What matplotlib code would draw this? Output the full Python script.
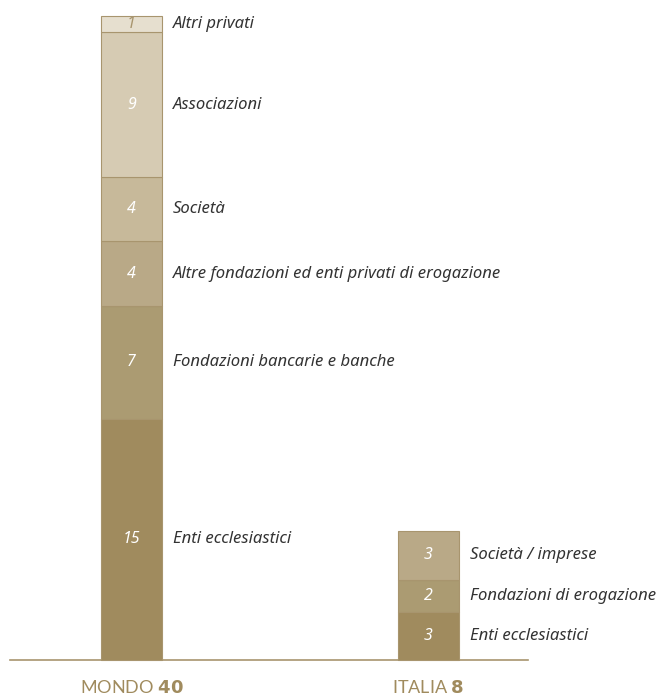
import matplotlib
matplotlib.use("Agg")
import matplotlib.pyplot as plt

groups = ["MONDO", "ITALIA"]
totals = [40, 8]
mondo_cats = ["Enti ecclesiastici", "Fondazioni bancarie e banche",
              "Altre fondazioni ed enti privati di erogazione", "Società",
              "Associazioni", "Altri privati"]
mondo_vals = [15, 7, 4, 4, 9, 1]
italia_cats = ["Enti ecclesiastici", "Fondazioni di erogazione", "Società / imprese"]
italia_vals = [3, 2, 3]

mondo_colors = ["#A08B5E", "#AB9B72", "#B9A987", "#C7B99A", "#D6CBB3", "#E6DFCF"]
italia_colors = ["#A08B5E", "#AB9B72", "#B9A987"]
gold = "#A08B5E"

fig = plt.figure(figsize=(6.58, 6.95), dpi=100)
ax = fig.add_axes([0, 0, 1, 1])
ax.set_xlim(-0.443, 1.773)
ax.set_ylim(-2.17, 41.0)
ax.axis("off")

width = 0.205
px_x = 297.0  # pixels per x unit

def draw(xpos, vals, cats, colors):
    bottom = 0
    for v, c, col in zip(vals, cats, colors):
        ax.bar(xpos, v, width=width, bottom=bottom, color=col,
               edgecolor="#A8956E", linewidth=0.8, zorder=2)
        yc = bottom + v / 2
        tc = "white" if col not in ("#E6DFCF",) else "#A8956E"
        ax.text(xpos, yc, str(v), ha="center", va="center", color=tc,
                fontsize=11.5, style="italic", family="Noto Sans", zorder=3)
        ax.text(xpos + width / 2 + 11 / px_x, yc, c, ha="left", va="center",
                color="#333333", fontsize=12, style="italic", family="Noto Sans")
        bottom += v

draw(0, mondo_vals, mondo_cats, mondo_colors)
draw(1, italia_vals, italia_cats, italia_colors)

ax.plot([-0.41, 1.335], [0, 0], color="#A8956E", linewidth=1.2, zorder=1)

for xpos, g, t in zip([0, 1], groups, totals):
    ax.text(xpos, -1.68, g + " " + r"$\bf{" + str(t) + "}$", ha="center", va="center",
            color=gold, fontsize=13, family="Lato")

fig.savefig("out.png", dpi=100)
